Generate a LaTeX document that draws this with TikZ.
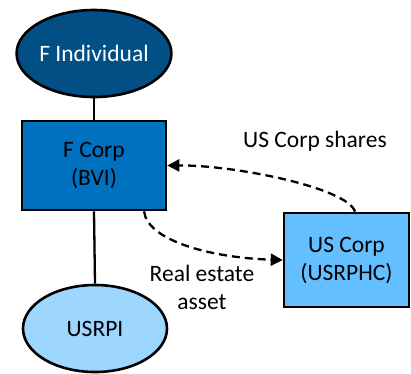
\documentclass[tikz,border=0pt]{standalone}
\usepackage{fontspec}
\setmainfont{Carlito}
\usetikzlibrary{shapes.geometric,arrows.meta}
\definecolor{navyfill}{HTML}{024F85}
\definecolor{corpfill}{HTML}{0070C0}
\definecolor{usfill}{HTML}{63BFFF}
\definecolor{propfill}{HTML}{9DD6FF}
\tikzset{
  entity/.style={draw=black, line width=2.6pt, inner sep=0pt, align=center,
    font=\fontsize{23.5}{28}\selectfont},
  oval/.style={entity, ellipse, minimum width=144pt, minimum height=87pt},
  box/.style={entity, rectangle},
  link/.style={line width=2.3pt},
  flow/.style={line width=2.3pt, dash pattern=on 8pt off 5pt,
    -{Triangle[length=12pt,width=12pt]}},
  caption/.style={align=center, font=\fontsize{23.5}{28}\selectfont}
}
\begin{document}
\begin{tikzpicture}[x=1pt, y=-1pt]
  \useasboundingbox (0,0) rectangle (411,373);
  % entities
  \node[oval, fill=navyfill, text=white] (ind) at (94,53.5) {F Individual};
  \node[box, fill=corpfill, minimum width=144pt, minimum height=89pt] (fcorp) at (94,165.5) {F Corp\\(BVI)};
  \node[oval, fill=propfill] (usrpi) at (95,328.5) {USRPI};
  \node[box, fill=usfill, minimum width=125pt, minimum height=94pt] (uscorp) at (346.5,260) {US Corp\\(USRPHC)};
  % ownership lines
  \draw[link] (ind.south) -- (fcorp.north);
  \draw[link] (fcorp.south) -- (usrpi.north);
  % transfers
  \coordinate (sharesStart) at ([xshift=8.5pt]uscorp.north);
  \draw[flow] (sharesStart) .. controls (348,188) and (235,165) .. (fcorp.east);
  \coordinate (assetStart) at ([xshift=50pt]fcorp.south);
  \draw[flow] (assetStart) .. controls (148,242) and (215,258) .. (uscorp.west);
  % labels
  \node[caption] (sharesLbl) at (315,141) {US Corp shares};
  \node[caption] (assetLbl) at (202,287) {Real estate\\asset};
\end{tikzpicture}
\end{document}
